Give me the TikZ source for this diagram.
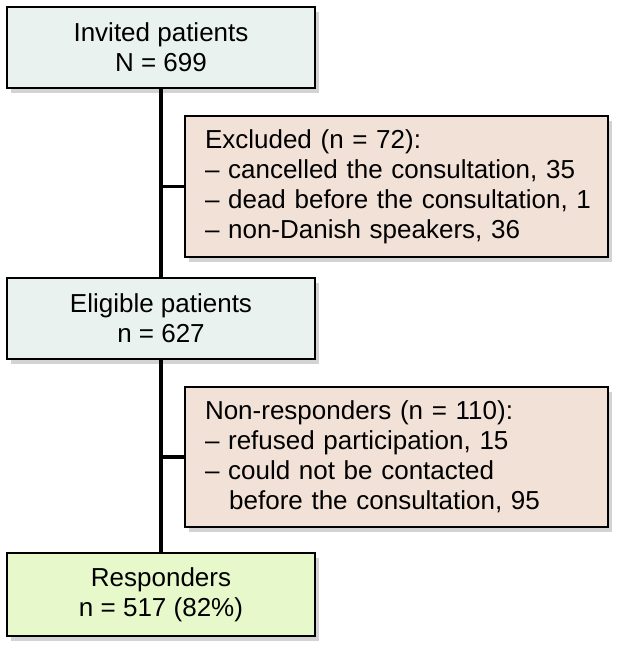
\documentclass[tikz,border=0pt]{standalone}
\usepackage{fontspec}
\setmainfont{Liberation Sans}
\usetikzlibrary{shadows}
\definecolor{bluegray}{HTML}{E9F2EE}
\definecolor{beige}{HTML}{F2E1D7}
\definecolor{lightgreen}{HTML}{E7F8CB}
\hbadness=10000 \hfuzz=100pt
\begin{document}
\begin{tikzpicture}[x=1pt,y=-1pt,
  boxbase/.style={draw=black,line width=1.3pt,
    drop shadow={shadow xshift=4pt,shadow yshift=-5pt,opacity=0.35},
    font=\fontsize{26}{30}\selectfont},
  mainbox/.style={boxbase,fill=bluegray,minimum width=308pt,minimum height=81pt,align=center,inner sep=0pt},
  sidebox/.style={boxbase,fill=beige,minimum width=423pt,text width=383pt,inner xsep=20pt,align=left},
  finalbox/.style={mainbox,fill=lightgreen,minimum height=83pt},
  connector/.style={line width=3.5pt,black}]
\useasboundingbox (0,0) rectangle (628,656);
\node[mainbox] (inv) at (161,47.5) {Invited patients\\N = 699};
\node[sidebox,minimum height=141pt] (exc) at (396.5,186.5) {\mbox{Excluded (n = 72):}\\
\mbox{– cancelled the consultation, 35}\\
\mbox{– dead before the consultation, 1}\\
\mbox{– non-Danish speakers, 36}};
\node[mainbox] (eli) at (161,318.5) {Eligible patients\\n = 627};
\node[sidebox,minimum height=140pt] (non) at (396.5,457) {\mbox{Non-responders (n = 110):}\\
\mbox{– refused participation, 15}\\
\mbox{– could not be contacted}\\
\mbox{\hspace*{0.93em}before the consultation, 95}};
\node[finalbox] (res) at (161,594.5) {Responders\\n = 517 (82\%)};
\coordinate (j1) at (inv.south |- exc.west);
\coordinate (j2) at (eli.south |- non.west);
\draw[connector] (inv.south) -- (eli.north);
\draw[connector] (eli.south) -- (res.north);
\draw[connector] ([xshift=-1.75pt]j1) -- (exc.west);
\draw[connector] ([xshift=-1.75pt]j2) -- (non.west);
\end{tikzpicture}
\end{document}
